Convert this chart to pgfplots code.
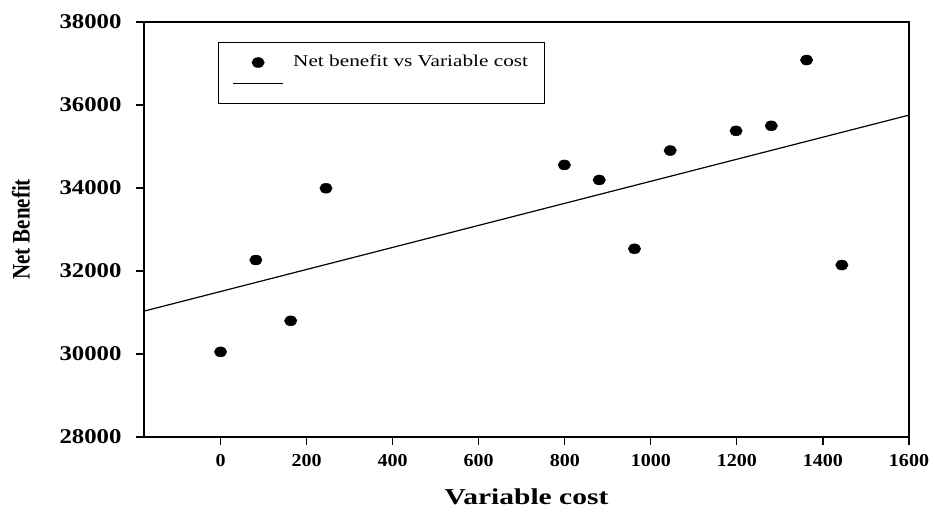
\documentclass[border=0pt]{standalone}
\usepackage{pgfplots}
\pgfplotsset{compat=1.18}
\usepackage{fontspec}
\setmainfont{Liberation Serif}
\usepackage{graphicx}
\begin{document}
\begin{tikzpicture}
\begin{axis}[
  scale only axis, width=765pt, height=415pt,
  xmin=-178, xmax=1600, ymin=28000, ymax=38000,
  xtick={0,200,...,1600}, ytick={28000,30000,...,38000},
  tick align=outside, major tick length=8pt,
  xtick pos=bottom, ytick pos=left,
  axis line style={line width=1.2pt},
  every tick/.style={black, line width=1.1pt},
  scaled ticks=false,
  /pgf/number format/1000 sep={},
  /pgf/number format/assume math mode=true,
  xticklabel={\scalebox{1.1}[1]{\pgfmathprintnumber{\tick}}},
  yticklabel={\scalebox{1.18}[1]{\pgfmathprintnumber{\tick}}},
  xticklabel style={font=\fontsize{18.2}{18.2}\selectfont\bfseries, yshift=-6pt},
  yticklabel style={font=\fontsize{21}{21}\selectfont\bfseries, xshift=-11pt},
  xlabel={\scalebox{1.3}[1]{Variable cost}},
  ylabel={\scalebox{1}[1.2]{Net Benefit}},
  xlabel style={font=\fontsize{22.7}{22.7}\selectfont\bfseries, at={(axis description cs:0.5,-0.162)}, anchor=base, inner sep=0pt},
  ylabel style={font=\fontsize{21}{21}\selectfont\bfseries, at={(axis description cs:-0.1608,0.5)}, anchor=center},
  legend image code/.code={\draw[mark repeat=2,mark phase=2,#1] plot coordinates {(0pt,0pt)(25pt,0pt)(50pt,0pt)};},
  legend style={at={(0.0967,0.9518)}, anchor=north west, draw=black, line width=1.1pt,
    font=\fontsize{16.6}{16.6}\selectfont, inner xsep=14pt, inner ysep=9.5pt,
    column sep=7pt, row sep=0pt,
    nodes={text height=12pt, text depth=4pt, inner sep=2.5pt, anchor=west}},
  legend cell align=left,
]
\addplot[only marks, mark=*, mark size=5pt, line width=0.4pt, mark options={xscale=1.25, fill=black, draw=black}]
  coordinates {
  (0,30051) (82,32264) (163,30799) (245,33994) (799,34556) (880,34194)
  (962,32535) (1045,34902) (1198,35377) (1280,35498) (1362,37083) (1444,32143)
  };
\addlegendentry{\scalebox{1.28}[1]{Net benefit vs Variable cost}}
\addplot[black, line width=1.2pt, mark=none] coordinates {(-178,31033) (1600,35756)};
\addlegendentry{\phantom{N}}
\end{axis}
\pgfresetboundingbox
\path[use as bounding box] (-144pt,-71pt) rectangle (786pt,437pt);
\end{tikzpicture}
\end{document}
